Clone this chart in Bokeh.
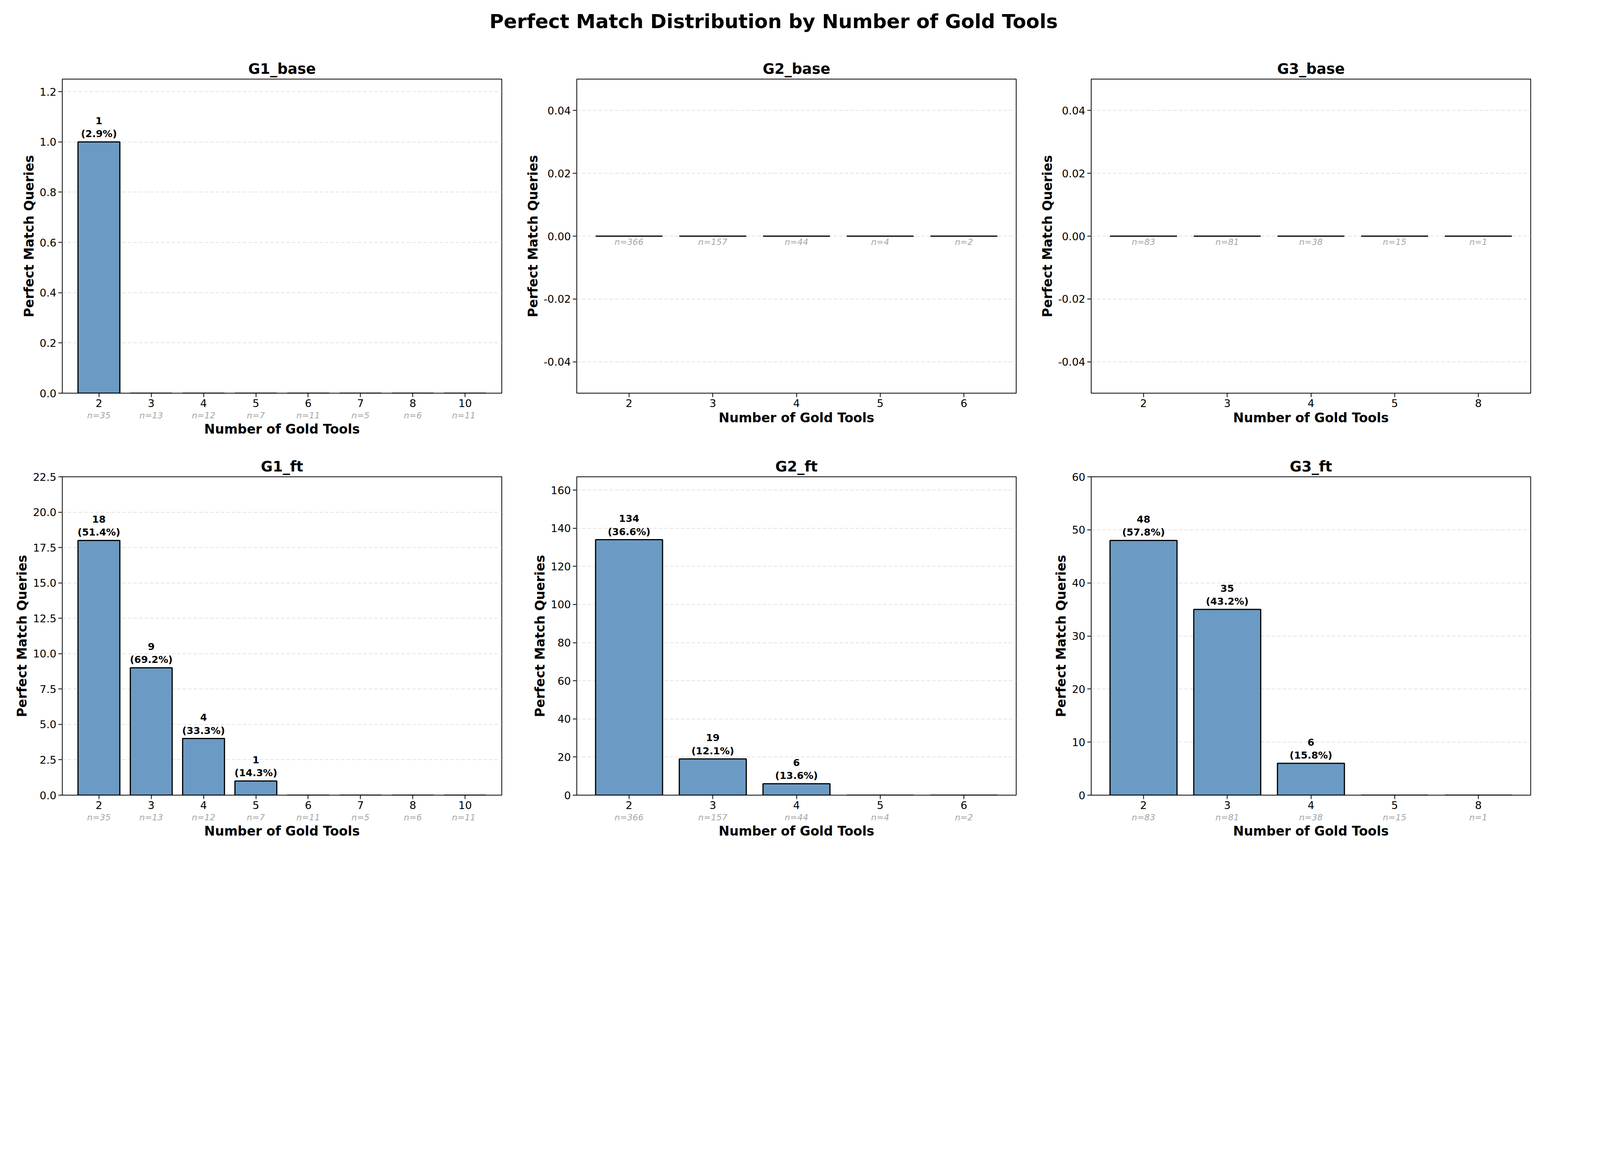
from bokeh.plotting import figure
from bokeh.layouts import gridplot, column
from bokeh.models import FactorRange, Range1d, CategoricalAxis, Div, SingleIntervalTicker, NumeralTickFormatter, ColumnDataSource
from bokeh.core.properties import value
from bokeh.embed import file_html
from bokeh.resources import INLINE

g1_tools = ["2", "3", "4", "5", "6", "7", "8", "10"]
g1_n = [35, 13, 12, 7, 11, 5, 6, 11]
g2_tools = ["2", "3", "4", "5", "6"]
g2_n = [366, 157, 44, 4, 2]
g3_tools = ["2", "3", "4", "5", "8"]
g3_n = [83, 81, 38, 15, 1]

g1_base = [1, 0, 0, 0, 0, 0, 0, 0]
g2_base = [0, 0, 0, 0, 0]
g3_base = [0, 0, 0, 0, 0]
g1_ft = [18, 9, 4, 1, 0, 0, 0, 0]
g2_ft = [134, 19, 6, 0, 0]
g3_ft = [48, 35, 6, 0, 0]

FONT = "DejaVu Sans"
BAR = "#6b9bc4"
S = 0.74

def px(v):
    return f"{round(v * S)}px"

panels = [
    ("G1_base", g1_tools, g1_n, g1_base, (0, 1.25), 0.2, "0.0", False),
    ("G2_base", g2_tools, g2_n, g2_base, (-0.05, 0.05), 0.02, "0.00", True),
    ("G3_base", g3_tools, g3_n, g3_base, (-0.05, 0.05), 0.02, "0.00", True),
    ("G1_ft", g1_tools, g1_n, g1_ft, (0, 22.5), 2.5, "0.0", False),
    ("G2_ft", g2_tools, g2_n, g2_ft, (0, 167), 20, "0", False),
    ("G3_ft", g3_tools, g3_n, g3_ft, (0, 60), 10, "0", False),
]

figs = []
for i, (name, tools, ns, vals, yr, step, fmt, inside) in enumerate(panels):
    top_row = i < 3
    p = figure(width=round(1780 * S), height=round(1390 * S),
               x_range=FactorRange(*tools, range_padding=0.05),
               y_range=Range1d(*yr), output_backend="svg", toolbar_location=None,
               min_border_left=round(215 * S), min_border_right=round(45 * S),
               min_border_top=round((150 if top_row else 135) * S), min_border_bottom=round(140 * S))
    p.title.text = name
    p.title.align = "center"
    p.title.text_font = FONT
    p.title.text_font_size = px(50)
    p.title.text_font_style = "bold"
    p.title.text_color = "black"
    p.outline_line_color = "black"
    p.outline_line_width = 2
    p.xgrid.visible = False
    p.ygrid.grid_line_dash = "9 5"
    p.ygrid.grid_line_color = "#d9d9d9"
    p.ygrid.grid_line_width = 1.5
    p.yaxis.ticker = SingleIntervalTicker(interval=step)
    p.yaxis.formatter = NumeralTickFormatter(format=fmt)
    for ax in (p.xaxis[0], p.yaxis[0]):
        ax.major_label_text_font = FONT
        ax.major_label_text_font_size = px(36)
        ax.major_label_text_color = "black"
        ax.axis_label_text_font = FONT
        ax.axis_label_text_font_size = px(44)
        ax.axis_label_text_font_style = "bold"
        ax.axis_label_text_color = "black"
        ax.minor_tick_line_color = None
        ax.major_tick_out = 10
        ax.major_tick_in = 0
        ax.major_tick_line_width = 2
        ax.major_tick_line_color = "black"
        ax.axis_line_color = None
    p.yaxis.axis_label = "Perfect Match Queries"
    p.xaxis.axis_label = "Number of Gold Tools"
    pct = [f"{v}\n({100*v/n:.1f}%)" if v > 0 else "" for v, n in zip(vals, ns)]
    src = ColumnDataSource(dict(x=tools, top=vals, lab=pct, n=[f"n={n}" for n in ns]))
    p.vbar(x="x", top="top", width=0.8, source=src, fill_color=BAR, line_color="black", line_width=3)
    p.text(x="x", y="top", text="lab", source=src, text_align="center", text_baseline="bottom",
           y_offset=-6, text_font=value(FONT), text_font_size=px(34), text_font_style="bold",
           text_line_height=1.15)
    if inside:
        p.text(x="x", y=0, text="n", source=src, text_align="center", text_baseline="top",
               y_offset=2, text_font=value(FONT), text_font_size=px(30), text_font_style="italic",
               text_color="#a6a6a6")
    else:
        labs = []
        for n in ns:
            s = f"n={n}"
            while s in labs:
                s += " "
            labs.append(s)
        p.extra_x_ranges = {"n": FactorRange(*labs, range_padding=0.05)}
        ax = CategoricalAxis(x_range_name="n", axis_line_color=None, major_tick_line_color=None,
                             minor_tick_line_color=None, major_label_text_font=FONT,
                             major_label_text_font_size=px(30), major_label_text_font_style="italic",
                             major_label_text_color="#a6a6a6", major_label_standoff=0)
        p.add_layout(ax, "below")
        ax.axis_label = "Number of Gold Tools"
        ax.axis_label_text_font = FONT
        ax.axis_label_text_font_size = px(44)
        ax.axis_label_text_font_style = "bold"
        ax.axis_label_text_color = "black"
        ax.axis_label_standoff = 0
        p.xaxis[0].axis_label = None
    figs.append(p)

W = 3 * round(1780 * S)
title = Div(text="Perfect Match Distribution by Number of Gold Tools", width=W, height=round(110 * S),
            styles={"font-family": FONT, "font-size": px(68), "font-weight": "bold", "color": "black",
                    "text-align": "center", "width": f"{W}px", "padding-top": px(20)})
grid = gridplot([figs[:3], figs[3:]], toolbar_location=None)
page = column(title, grid)
open("out.html", "w").write(file_html(page, INLINE))
